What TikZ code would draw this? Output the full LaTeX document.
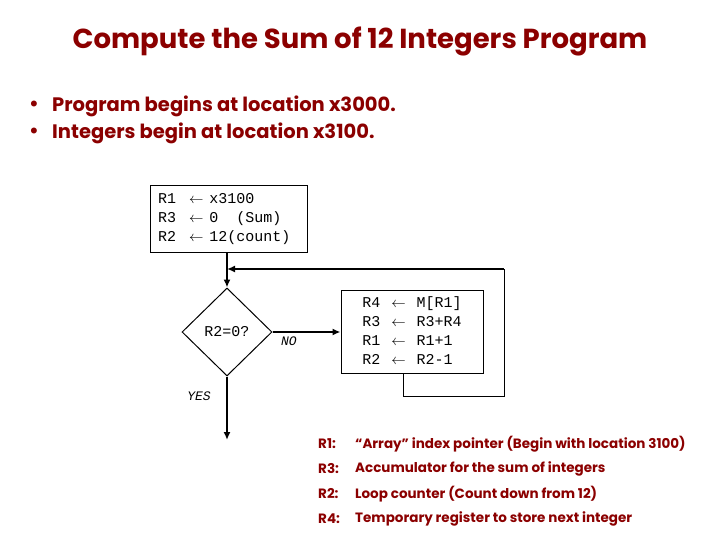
\documentclass[tikz,border=0pt]{standalone}
\usepackage{fontspec}
\setmainfont{Poppins}
\setmonofont{Liberation Mono}
\usetikzlibrary{arrows.meta,shapes.geometric}
\definecolor{rojoosc}{HTML}{8B0000}

\begin{document}
\begin{tikzpicture}[x=1pt, y=-1pt,
  heading/.style={text=rojoosc, font=\fontsize{27.5}{30}\selectfont\bfseries},
  point/.style={text=rojoosc, anchor=west, inner sep=0pt, font=\fontsize{19.5}{22}\selectfont\bfseries},
  instr/.style={rectangle, draw, line width=1pt, align=left, font=\fontsize{15}{19}\selectfont\ttfamily},
  decision/.style={diamond, draw, line width=1pt, aspect=1, inner sep=0pt,
    minimum width=90pt, minimum height=88pt, font=\fontsize{15}{19}\selectfont\ttfamily},
  branch/.style={font=\fontsize{13}{15}\selectfont\ttfamily\itshape},
  note/.style={text=rojoosc, anchor=west, inner sep=0pt, font=\fontsize{13.5}{17}\selectfont\bfseries},
  flow/.style={line width=2pt, -{Latex[length=8pt,width=7pt]}},
  back/.style={line width=1pt}
]
\useasboundingbox (0,0) rectangle (720,540);

% title and bullets
\node[heading] (ttl) at (360,42) {Compute the Sum of 12 Integers Program};
\node[point] (dot1) at (29,106) {\textbullet};
\node[point] (txt1) at (52,106) {Program begins at location x3000.};
\node[point] (dot2) at (29,133) {\textbullet};
\node[point] (txt2) at (52,133) {Integers begin at location x3100.};

% flowchart
\node[instr, text width=141pt, inner xsep=8pt, minimum height=66pt] (init) at (228.5,219)
  {R1\hspace{13pt}$\leftarrow$\hspace{6pt}x3100\\
   R3\hspace{13pt}$\leftarrow$\hspace{6pt}0\hspace{18pt}(Sum)\\
   R2\hspace{13pt}$\leftarrow$\hspace{6pt}12(count)};
\node[decision] (test) at (227,332) {R2=0?};
\node[instr, minimum width=142pt, minimum height=82pt] (body) at (412,332)
  {\begin{tabular}{@{}l@{\hspace{11pt}}c@{\hspace{11pt}}l@{}}
   R4 & $\leftarrow$ & M[R1]\\
   R3 & $\leftarrow$ & R3+R4\\
   R1 & $\leftarrow$ & R1+1\\
   R2 & $\leftarrow$ & R2-1
   \end{tabular}};

\coordinate (jn) at (227,269);
\coordinate (lpa) at (403,396);
\coordinate (lpb) at (504,396);
\coordinate (lpc) at (504,269);
\coordinate (ex) at (227,440);

\draw[flow] (init.south -| test.north) -- (test.north);
\draw[flow] (test.east) -- node[branch, pos=0.24, below] {NO} (body.west);
\draw[back] (body.south -| lpa) -- (lpa) -- (lpb) -- (lpc);
\draw[flow] (lpc) -- (jn);
\draw[flow] (test.south) -- node[branch, pos=0.31, left=12pt] {YES} (ex);

% register notes
\node[note] (k1) at (318,444) {R1:};
\node[note] (n1) at (355,444) {“Array” index pointer (Begin with location 3100)};
\node[note] (k3) at (318,469) {R3:};
\node[note] (n3) at (355,469) {Accumulator for the sum of integers};
\node[note] (k2) at (318,494) {R2:};
\node[note] (n2) at (355,494) {Loop counter (Count down from 12)};
\node[note] (k4) at (318,519) {R4:};
\node[note] (n4) at (355,519) {Temporary register to store next integer};
\end{tikzpicture}
\end{document}
